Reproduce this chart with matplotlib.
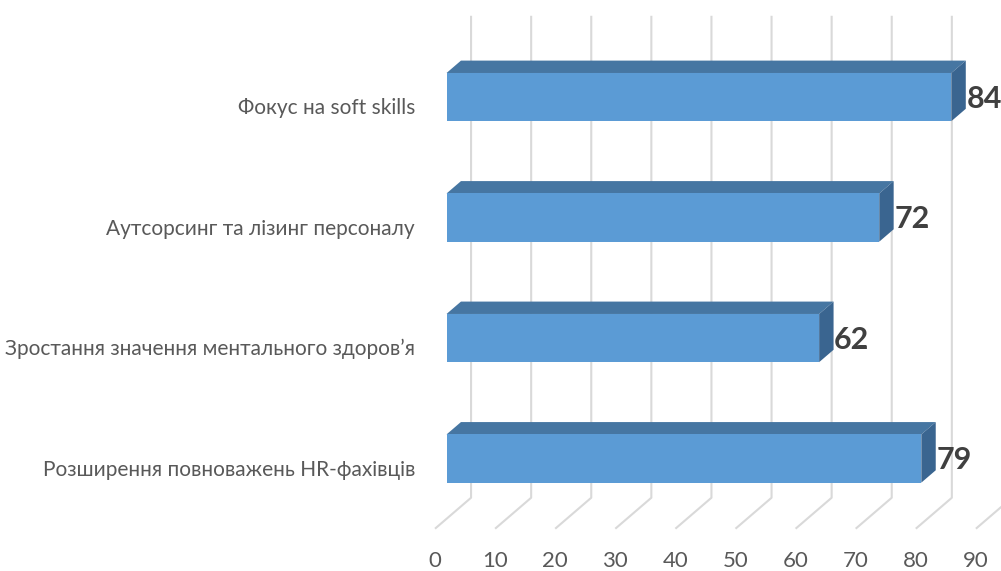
import matplotlib.pyplot as plt
from matplotlib.patches import Polygon

categories = ["Фокус на soft skills",
              "Аутсорсинг та лізинг персоналу",
              "Зростання значення ментального здоров’я",
              "Розширення повноважень HR-фахівців"]
values = [84, 72, 62, 79]
ticks = [0, 10, 20, 30, 40, 50, 60, 70, 80, 90]

# oblique depth axis: one unit of depth shifts by DX values and DY categories
DX, DY = 6.0, -0.257
d0, d1 = 0.32, 0.72      # depth span of the bars
half = 0.2               # half bar thickness in category units

front_c = "#5B9BD5"
top_c = "#4676A2"
side_c = "#3A6590"
grid_c = "#D9D9D9"

plt.rcParams['font.family'] = ['Lato', 'DejaVu Sans']

fig = plt.figure(figsize=(10.01, 5.71), dpi=100)
ax = fig.add_axes([0, 0, 1, 1])
ax.set_xlim(-72.38, 94.18)
ax.set_ylim(3.851, -0.888)
ax.axis("off")


def p(x, y, d):
    return (x + DX * d, y + DY * d)


# back wall and floor gridlines
for t in ticks:
    xs = [t + DX, t + DX, t]
    ys = [-0.5 + DY, 3.5 + DY, 3.5]
    ax.plot(xs, ys, color=grid_c, lw=1.5, zorder=1, solid_capstyle="butt")
    ax.text(t, 3.77, str(t), ha="center", va="center", fontsize=16, color="#595959")

for i, (cat, v) in enumerate(zip(categories, values)):
    y0, y1 = i - half, i + half
    front = [p(0, y0, d0), p(v, y0, d0), p(v, y1, d0), p(0, y1, d0)]
    top = [p(0, y0, d0), p(v, y0, d0), p(v, y0, d1), p(0, y0, d1)]
    side = [p(v, y0, d0), p(v, y0, d1), p(v, y1, d1), p(v, y1, d0)]
    ax.add_patch(Polygon(top, closed=True, fc=top_c, ec="none", zorder=3))
    ax.add_patch(Polygon(side, closed=True, fc=side_c, ec="none", zorder=3))
    ax.add_patch(Polygon(front, closed=True, fc=front_c, ec="none", zorder=4))

    ax.text(-3.33, i + 0.01, cat, ha="right", va="center", fontsize=15, color="#595959")
    ax.text(v + DX * d1 + 0.1, i + DY * d0 + 0.015, str(v), ha="left", va="center",
            fontsize=22, fontweight="bold", color="#404040")

fig.savefig("out.png", dpi=100)
